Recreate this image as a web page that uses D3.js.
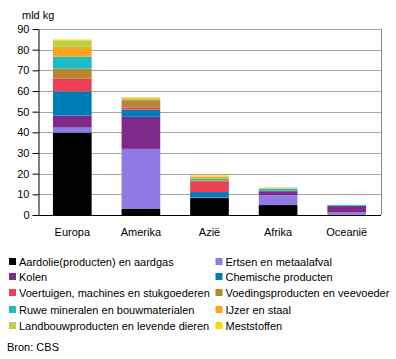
<!DOCTYPE html>
<html><head><meta charset="utf-8">
<script src="https://cdn.jsdelivr.net/npm/d3@7"></script>
<style>body{margin:0;background:#fff}text{font-family:"Liberation Sans",Arial,sans-serif;}</style>
</head><body><svg id="c" width="396" height="359"></svg>
<script>
const regions = ["Europa","Amerika","Azië","Afrika","Oceanië"];
const seriesNames = ["Aardolie(producten) en aardgas","Ertsen en metaalafval","Kolen","Chemische producten","Voertuigen, machines en stukgoederen","Voedingsproducten en veevoeder","Ruwe mineralen en bouwmaterialen","IJzer en staal","Landbouwproducten en levende dieren","Meststoffen"];
const colors = ["#000000","#8F7BE3","#7F2A8A","#007DB8","#EE4055","#B98530","#1FBAC6","#F9A61E","#B2D34C","#FFD700"];
const aardolie = [39.9, 2.9, 8.2, 4.8, 0.1];
const ertsen = [2.4, 29.1, 0.5, 4.8, 1.2];
const kolen = [5.8, 15.5, 0, 1.6, 3.1];
const chemisch = [11.7, 3.5, 2.4, 0.6, 0.2];
const voertuigen = [6.1, 1.1, 4.9, 0.1, 0];
const voeding = [4.9, 3.4, 0.7, 0.2, 0];
const ruwe = [5.8, 0.2, 0.8, 0.5, 0.3];
const ijzer = [4.8, 0.7, 1.0, 0.2, 0];
const landbouw = [2.9, 0.5, 0.2, 0.4, 0];
const mest = [0.6, 0.1, 0.5, 0.1, 0];
const yTicks = [0,10,20,30,40,50,60,70,80,90];

const seriesVals = [aardolie,ertsen,kolen,chemisch,voertuigen,voeding,ruwe,ijzer,landbouw,mest];
const table = regions.map((r,i)=>{const o={region:r}; seriesNames.forEach((s,j)=>o[s]=seriesVals[j][i]); return o;});
const stack = d3.stack().keys(seriesNames)(table);

const svg = d3.select("#c");
const L=38, R=381, T=29, B=215;
const x = d3.scaleBand().domain(regions).range([L,R]).paddingInner(0.436).paddingOuter(0.218);
const y = d3.scaleLinear().domain([0,90]).range([B,T]);

// grid
svg.append("g").selectAll("line").data(yTicks.filter(d=>d>0)).join("line")
  .attr("x1",L).attr("x2",R).attr("y1",d=>Math.round(y(d))+0.5).attr("y2",d=>Math.round(y(d))+0.5)
  .attr("stroke","#a6a6a6").attr("stroke-width",1);
svg.append("line").attr("x1",R+0.5).attr("x2",R+0.5).attr("y1",T).attr("y2",B).attr("stroke","#888").attr("stroke-width",1);

// bars
svg.append("g").selectAll("g").data(stack).join("g").attr("fill",(d,i)=>colors[i])
  .selectAll("rect").data(d=>d).join("rect")
  .attr("x",d=>x(d.data.region)).attr("width",x.bandwidth())
  .attr("y",d=>y(d[1])).attr("height",d=>Math.max(0,y(d[0])-y(d[1])));

// y axis
const ya = svg.append("g").attr("transform",`translate(${L+0.5},0)`)
  .call(d3.axisLeft(y).tickValues(yTicks).tickSize(6).tickPadding(3).tickSizeOuter(0));
ya.select(".domain").attr("stroke","#000");
ya.selectAll("text").attr("font-size",11).attr("fill","#000").style("font-family","Liberation Sans, Arial, sans-serif");
// x axis baseline
svg.append("line").attr("x1",L).attr("x2",R).attr("y1",B+0.5).attr("y2",B+0.5).attr("stroke","#000");
// x labels
svg.append("g").selectAll("text").data(regions).join("text")
  .attr("x",d=>x(d)+x.bandwidth()/2).attr("y",236).attr("text-anchor","middle").attr("font-size",11).text(d=>d);

svg.append("text").attr("x",22).attr("y",19).attr("font-size",11).text("mld kg");

// legend
const lg = svg.append("g");
const rowY = [262,277,293,310,326];
seriesNames.forEach((s,i)=>{
  const col=i%2, row=Math.floor(i/2);
  const gx = col===0?9:215.5;
  const gy = rowY[row];
  lg.append("rect").attr("x",gx).attr("y",gy-4).attr("width",7).attr("height",7).attr("fill",colors[i]);
  lg.append("text").attr("x",gx+10).attr("y",gy+4).attr("font-size",11).text(s);
});
svg.append("text").attr("x",7).attr("y",351).attr("font-size",11).text("Bron: CBS");
</script></body></html>
